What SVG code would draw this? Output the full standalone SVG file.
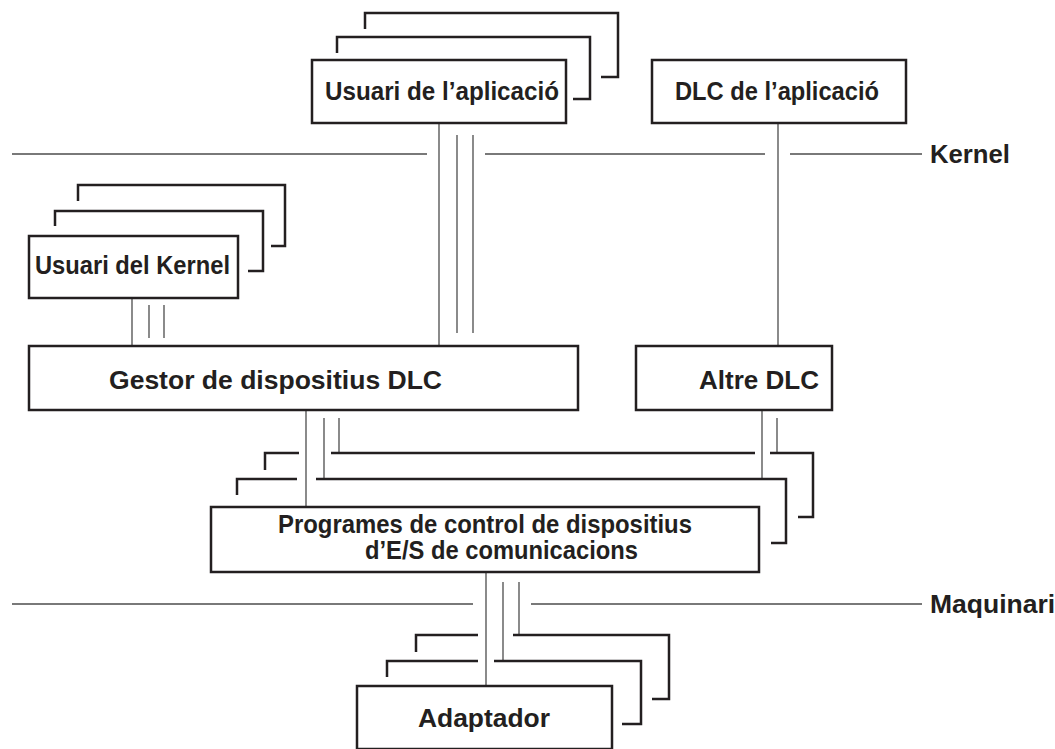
<svg xmlns="http://www.w3.org/2000/svg" width="1055" height="749" viewBox="0 0 1055 749">
<style>
.box{fill:#fff;stroke:#231f20;stroke-width:2.5}
.br{fill:none;stroke:#231f20;stroke-width:2.5}
.ln{fill:none;stroke:#4d4d4d;stroke-width:1.3}
.t{font-family:"Liberation Sans",Arial,sans-serif;font-weight:bold;fill:#231f20;font-size:25px}
.tl{font-size:26.5px}
</style>
<rect width="1055" height="749" fill="#fff"/>
<g id="levels">
<path class="ln" d="M12,154H427M485,154H765M790,154H922"/>
<text class="t tl" x="930" y="163" textLength="80" lengthAdjust="spacingAndGlyphs">Kernel</text>
<path class="ln" d="M12,604H473M531,604H922"/>
<text class="t tl" x="930" y="613">Maquinari</text>
</g>
<g id="connectors">
<path class="ln" d="M439,123V346M457,135V333M473,135V333M778,123V346M132,298V346M149,305V338M164,305V338M306,410V507M324,418V479M339,418V453M762,410V479M777,418V453M486,572V686M503,582V661M519,582V635"/>
</g>
<g id="usuari-aplicacio">
<path class="br" d="M365,29V13H618V77H601"/>
<path class="br" d="M337,53V37H590V99H573"/>
<rect class="box" x="312" y="60" width="254" height="63"/>
<text class="t" x="325" y="100" textLength="234" lengthAdjust="spacingAndGlyphs">Usuari de l’aplicació</text>
</g>
<g id="dlc-aplicacio">
<rect class="box" x="652" y="60" width="254" height="63"/>
<text class="t" x="675" y="100" textLength="204" lengthAdjust="spacingAndGlyphs">DLC de l’aplicació</text>
</g>
<g id="usuari-kernel">
<path class="br" d="M78,201V185H285V246H271"/>
<path class="br" d="M55,226V211H263V271H248"/>
<rect class="box" x="29" y="236" width="209" height="62"/>
<text class="t" x="35" y="274" textLength="195" lengthAdjust="spacingAndGlyphs">Usuari del Kernel</text>
</g>
<g id="gestor">
<rect class="box" x="29" y="346" width="549" height="64"/>
<text class="t tl" x="109" y="389" textLength="333" lengthAdjust="spacingAndGlyphs">Gestor de dispositius DLC</text>
</g>
<g id="altre-dlc">
<rect class="box" x="636" y="346" width="196" height="64"/>
<text class="t tl" x="699" y="389" textLength="120" lengthAdjust="spacingAndGlyphs">Altre DLC</text>
</g>
<g id="programes">
<path class="br" d="M265,470V453H299M331,453H755M770,453H813V517H798"/>
<path class="br" d="M237,495V479H297M316,479H786V543H771"/>
<rect class="box" x="211" y="507" width="548" height="65"/>
<text class="t" x="278" y="533" textLength="414" lengthAdjust="spacingAndGlyphs">Programes de control de dispositius</text>
<text class="t" x="365" y="559" textLength="273" lengthAdjust="spacingAndGlyphs">d’E/S de comunicacions</text>
</g>
<g id="adaptador">
<path class="br" d="M416,652V635H478M513,635H669V699H652"/>
<path class="br" d="M387,677V661H478M494,661H641V724H622"/>
<rect class="box" x="357" y="686" width="255" height="63"/>
<text class="t tl" x="418" y="727" textLength="132" lengthAdjust="spacingAndGlyphs">Adaptador</text>
</g>
</svg>
